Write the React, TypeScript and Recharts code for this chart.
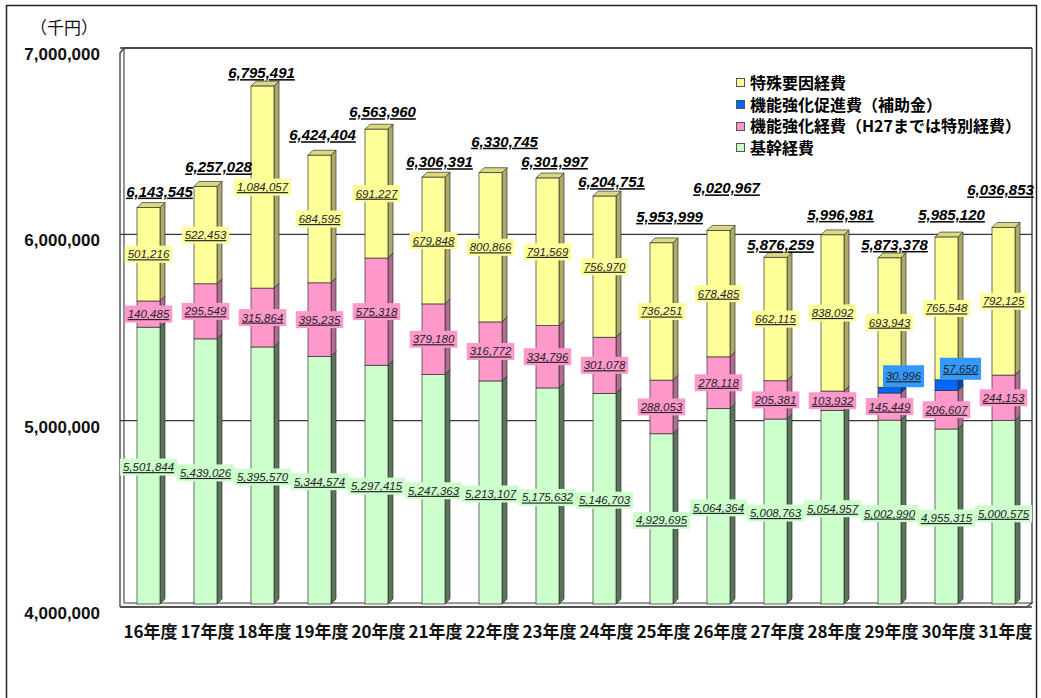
import React from 'react';
import { BarChart, Bar, XAxis, YAxis, CartesianGrid, LabelList, Legend } from 'recharts';

// ---------- data ----------
const YEARS = ['16年度', '17年度', '18年度', '19年度', '20年度', '21年度', '22年度', '23年度', '24年度', '25年度', '26年度', '27年度', '28年度', '29年度', '30年度', '31年度'];
const KIKAN = [5501844, 5439026, 5395570, 5344574, 5297415, 5247363, 5213107, 5175632, 5146703, 4929695, 5064364, 5008763, 5054957, 5002990, 4955315, 5000575];
const KINO = [140485, 295549, 315864, 395235, 575318, 379180, 316772, 334796, 301078, 288053, 278118, 205381, 103932, 145449, 206607, 244153];
const SOKUSHIN = [0, 0, 0, 0, 0, 0, 0, 0, 0, 0, 0, 0, 0, 30996, 57650, 0];
const TOKUSHU = [501216, 522453, 1084057, 684595, 691227, 679848, 800866, 791569, 756970, 736251, 678485, 662115, 838092, 693943, 765548, 792125];
const TOTALS = [6143545, 6257028, 6795491, 6424404, 6563960, 6306391, 6330745, 6301997, 6204751, 5953999, 6020967, 5876259, 5996981, 5873378, 5985120, 6036853];
const Y_TICKS = [4000000, 5000000, 6000000, 7000000];
const Y_DOMAIN = [4000000, 7000000];
const UNIT_LABEL = '（千円）';
const NAMES = {
  kikan: '基幹経費',
  kino: '機能強化経費（H27までは特別経費）',
  sokushin: '機能強化促進費（補助金）',
  tokushu: '特殊要因経費',
};
const LEGEND_ORDER = ['tokushu', 'sokushin', 'kino', 'kikan'];

const DATA = YEARS.map((year, i) => ({
  year,
  kikan: KIKAN[i],
  kino: KINO[i],
  sokushin: SOKUSHIN[i],
  tokushu: TOKUSHU[i],
  total: TOTALS[i],
}));

// ---------- layout ----------
const W = 1041;
const H = 698;
const MARGIN = { top: 48, right: 9, bottom: 61, left: 0 };
const YAXIS_W = 120;
const XAXIS_H = 30;
const PLOT_LEFT = MARGIN.left + YAXIS_W;
const PLOT_RIGHT = W - MARGIN.right;
const PLOT_TOP = MARGIN.top;
const PLOT_BOTTOM = H - MARGIN.bottom - XAXIS_H;
const DEPTH = 5;
// hand placement of the total labels, as in the original (px above bar top / px right of bar centre)
const TOTAL_LIFT = [11, 14, 8, 15, 12, 10, 26, 11, 9, 21, 37, 7, 15, 8, 17, 32];
const TOTAL_SHIFT = [11, 13, -1, 3, 6, 6, 14, 7, 7, 8, 8, 5, 8, 5, 5, -3];

const NUM_FONT = '"Liberation Sans", Arial, sans-serif';
const CJK_FONT = '"Noto Sans CJK JP", "Noto Sans", sans-serif';

const COLORS = {
  kikan: { front: '#CCFFCC', side: '#5A755A', top: '#A3CCA3' },
  kino: { front: '#FF99CC', side: '#B36B8F', top: '#D982AD' },
  sokushin: { front: '#0066FF', side: '#0047B3', top: '#0052CC' },
  tokushu: { front: '#FFFF99', side: '#ABAB66', top: '#D9D982' },
};

const fmt = (v: number) => Number(v).toLocaleString('en-US');
const textW = (s: string, fs: number) =>
  [...s].reduce((a, c) => a + (c === ',' || c === '.' ? 0.278 : 0.556) * fs, 0);

function make3D(c: { front: string; side: string; top: string }) {
  return (p: any) => {
    const x = p.x;
    const w = p.width;
    let y0 = p.y;
    let y1 = p.y + p.height;
    if (y1 < y0) [y0, y1] = [y1, y0];
    const bg = p.background;
    const floor = (bg && bg.height ? bg.y + bg.height : PLOT_BOTTOM) - 3;
    y1 = Math.min(y1, floor);
    y0 = Math.max(y0, PLOT_TOP);
    if (!(y1 - y0 > 0.3) || !(w > 0)) return <g />;
    const d = DEPTH;
    return (
      <g>
        <polygon
          points={`${x + w},${y0} ${x + w + d},${y0 - d} ${x + w + d},${y1 - d} ${x + w},${y1}`}
          fill={c.side}
          stroke="#333"
          strokeWidth={0.7}
        />
        <polygon
          points={`${x},${y0} ${x + d},${y0 - d} ${x + w + d},${y0 - d} ${x + w},${y0}`}
          fill={c.top}
          stroke="#333"
          strokeWidth={0.7}
        />
        <rect x={x} y={y0} width={w} height={y1 - y0} fill={c.front} stroke="#333" strokeWidth={0.7} />
      </g>
    );
  };
}

const geo = (p: any) => {
  const vb = p.viewBox && p.viewBox.x != null ? p.viewBox : p;
  return { x: vb.x, y: vb.y, width: vb.width, height: vb.height };
};

function BoxLabel({ cx, cy, text, bg, bh = 17 }: any) {
  const fs = 11.5;
  const bw = textW(text, fs) + 6;
  return (
    <g>
      <rect x={cx - bw / 2} y={cy - bh / 2} width={bw} height={bh} fill={bg} />
      <text
        x={cx}
        y={cy + 4}
        textAnchor="middle"
        fontSize={fs}
        fontStyle="italic"
        fontFamily={NUM_FONT}
        fill="#222"
        textDecoration="underline"
      >
        {text}
      </text>
    </g>
  );
}

const kikanLabel = (p: any) => {
  const g = geo(p);
  if (!p.value) return null;
  const top = Math.min(g.y, g.y + g.height);
  const cy = (top + PLOT_BOTTOM) / 2;
  return <BoxLabel cx={g.x + g.width / 2} cy={cy} text={fmt(p.value)} bg={COLORS.kikan.front} />;
};

const centerLabel = (bg: string) => (p: any) => {
  const g = geo(p);
  if (!p.value) return null;
  const top = Math.min(g.y, g.y + g.height);
  const cy = top + Math.abs(g.height) / 2;
  return <BoxLabel cx={g.x + g.width / 2} cy={cy} text={fmt(p.value)} bg={bg} />;
};

// drawn on the top series so that it sits above it; anchored at the bottom of the top segment
const sokushinLabel = (p: any) => {
  const g = geo(p);
  if (!p.value) return null;
  const bottom = Math.max(g.y, g.y + g.height);
  return <BoxLabel cx={g.x + g.width / 2 + 14} cy={bottom - 11} text={fmt(p.value)} bg="#3399FF" bh={22} />;
};

const totalLabel = (p: any) => {
  const g = geo(p);
  if (!p.value) return null;
  const i = p.index ?? 0;
  const top = Math.min(g.y, g.y + g.height);
  return (
    <text
      x={g.x + g.width / 2 + (TOTAL_SHIFT[i] ?? 7)}
      y={top - (TOTAL_LIFT[i] ?? 11)}
      textAnchor="middle"
      fontSize={15}
      fontWeight="bold"
      fontStyle="italic"
      fontFamily={NUM_FONT}
      fill="#000"
      textDecoration="underline"
    >
      {fmt(p.value)}
    </text>
  );
};

const YTick = (p: any) => (
  <text
    x={PLOT_LEFT - 20}
    y={p.y + 12}
    textAnchor="end"
    fontSize={17}
    fontWeight="bold"
    fontFamily={NUM_FONT}
    fill="#111"
  >
    {fmt(p.payload.value)}
  </text>
);

const XTick = (p: any) => (
  <text
    x={p.x + 2}
    y={PLOT_BOTTOM + 31}
    textAnchor="middle"
    fontSize={17}
    fontWeight="bold"
    fontFamily={CJK_FONT}
    fill="#111"
  >
    {p.payload.value}
  </text>
);

const LegendContent = (props: any) => {
  const items = [...(props.payload || [])].sort(
    (a: any, b: any) => LEGEND_ORDER.indexOf(a.dataKey) - LEGEND_ORDER.indexOf(b.dataKey)
  );
  return (
    <div style={{ fontFamily: CJK_FONT, fontWeight: 700, fontSize: 16, color: '#000', lineHeight: '21.7px' }}>
      {items.map((it: any) => (
        <div key={it.value} style={{ display: 'flex', alignItems: 'center', height: 21.7, whiteSpace: 'nowrap' }}>
          <span
            style={{
              display: 'inline-block',
              width: 7,
              height: 7,
              background: it.color,
              border: '1px solid #555',
              marginRight: 5,
            }}
          />
          {it.value}
        </div>
      ))}
    </div>
  );
};

function Frame() {
  const L = PLOT_LEFT;
  const R = PLOT_RIGHT;
  const T = PLOT_TOP;
  const B = PLOT_BOTTOM;
  const s = '#3a3a3a';
  return (
    <svg width={W} height={H} style={{ position: 'absolute', left: 0, top: 0 }}>
      <rect x={0} y={0} width={W} height={H} fill="#fff" />
      <path d={`M6.5 ${H} L6.5 5.5 L${W - 4.5} 5.5 L${W - 4.5} ${H}`} fill="none" stroke="#222" strokeWidth={1.5} />
      <text x={30} y={34} fontSize={17} fontFamily={CJK_FONT} fill="#111">
        {UNIT_LABEL}
      </text>
      {/* left wall */}
      <path d={`M${L} ${B} L${L} ${T + 5} L${L + 4} ${T} L${R} ${T}`} fill="none" stroke={s} strokeWidth={1.3} />
      <path d={`M${L + 4} ${B - 4} L${L + 4} ${T + 1}`} fill="none" stroke={s} strokeWidth={1.1} />
      {/* right wall */}
      <path d={`M${R} ${T} L${R} ${B - 4}`} fill="none" stroke={s} strokeWidth={1.3} />
      {/* floor */}
      <path d={`M${L} ${B} L${R - 5} ${B} L${R} ${B - 4} L${L + 4} ${B - 4}`} fill="#f2f2f2" stroke={s} strokeWidth={1.2} />
    </svg>
  );
}

export default function App() {
  return (
    <div style={{ position: 'absolute', left: 0, top: 0, width: W, height: H, background: '#fff' }}>
      <Frame />
      <div style={{ position: 'absolute', left: 0, top: 0 }}>
        <BarChart width={W} height={H} data={DATA} margin={MARGIN} barSize={23}>
          <CartesianGrid vertical={false} stroke="#3a3a3a" strokeWidth={1.3} />
          <XAxis
            dataKey="year"
            height={XAXIS_H}
            interval={0}
            tickLine={false}
            axisLine={false}
            tick={<XTick />}
          />
          <YAxis
            width={YAXIS_W}
            domain={Y_DOMAIN}
            ticks={Y_TICKS}
            allowDataOverflow
            tickLine={false}
            axisLine={false}
            tick={<YTick />}
          />
          <Legend
            layout="vertical"
            align="center"
            verticalAlign="middle"
            wrapperStyle={{ left: 736, top: 72, width: 300 }}
            content={<LegendContent />}
          />
          <Bar dataKey="kikan" name={NAMES.kikan} stackId="s" fill={COLORS.kikan.front} isAnimationActive={false} shape={make3D(COLORS.kikan)}>
            <LabelList dataKey="kikan" content={kikanLabel} />
          </Bar>
          <Bar dataKey="kino" name={NAMES.kino} stackId="s" fill={COLORS.kino.front} isAnimationActive={false} shape={make3D(COLORS.kino)}>
            <LabelList dataKey="kino" content={centerLabel(COLORS.kino.front)} />
          </Bar>
          <Bar dataKey="sokushin" name={NAMES.sokushin} stackId="s" fill={COLORS.sokushin.front} isAnimationActive={false} shape={make3D(COLORS.sokushin)} />
          <Bar dataKey="tokushu" name={NAMES.tokushu} stackId="s" fill={COLORS.tokushu.front} isAnimationActive={false} shape={make3D(COLORS.tokushu)}>
            <LabelList dataKey="tokushu" content={centerLabel(COLORS.tokushu.front)} />
            <LabelList dataKey="sokushin" content={sokushinLabel} />
            <LabelList dataKey="total" content={totalLabel} />
          </Bar>
        </BarChart>
      </div>
    </div>
  );
}
